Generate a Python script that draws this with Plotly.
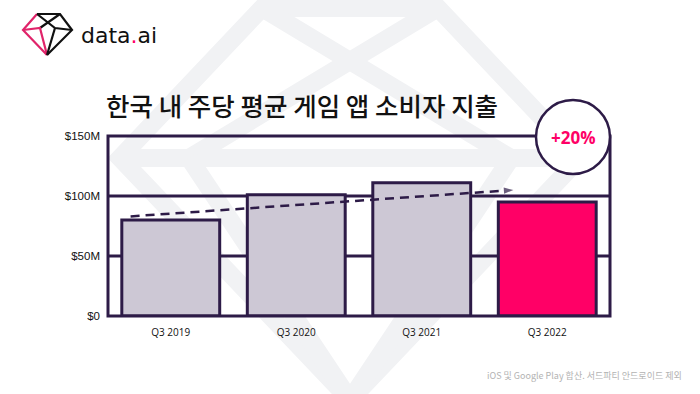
import plotly.graph_objects as go

# ---- data ----
categories = ["Q3 2019", "Q3 2020", "Q3 2021", "Q3 2022"]
spend_musd = [80, 101, 111, 95]
y_tick_vals = [0, 50, 100, 150]
y_tick_text = ["$0", "$50M", "$100M", "$150M"]
trend_x = [-0.32, 2.73]
trend_y = [83, 105]
growth_label = "+20%"
title_text = "한국 내 주당 평균 게임 앱 소비자 지출"
footnote_text = "iOS 및 Google Play 합산. 서드파티 안드로이드 제외"

DARK = "#2d1b47"
GREY_BAR = "#cdc8d5"
PINK = "#ff0066"
WM = "#f1f2f4"

W, H = 700, 394
L, R, T, B = 108, 90, 136, 78
PW, PH = W - L - R, H - T - B


def P(px, py):
    return ((px - L) / PW, (H - B - py) / PH)


def path(points, close=False):
    s = ""
    for i, (px, py) in enumerate(points):
        x, y = P(px, py)
        s += ("M" if i == 0 else "L") + f"{x:.4f},{y:.4f} "
    if close:
        s += "Z"
    return s


fig = go.Figure()

fig.add_trace(go.Bar(
    x=list(range(len(categories))), y=spend_musd, width=0.78,
    marker=dict(color=[GREY_BAR, GREY_BAR, GREY_BAR, PINK],
                line=dict(color=DARK, width=3)),
    hoverinfo="skip", showlegend=False,
))

fig.add_trace(go.Scatter(
    x=trend_x, y=trend_y, mode="lines+markers",
    line=dict(color=DARK, width=2.5, dash="9px,6px"),
    marker=dict(symbol=["circle", "arrow"], size=[0, 10], color=DARK,
                angleref="previous", line=dict(width=0)),
    showlegend=False, hoverinfo="skip", cliponaxis=False,
))

shapes = []
# watermark diamond
wm_lines = [
    ([(262, 8), (438, 8), (580, 158), (350, 400), (120, 158)], True),
    ([(262, 8), (511, 158)], False),
    ([(438, 8), (189, 158)], False),
    ([(120, 158), (580, 158)], False),
    ([(189, 158), (350, 400)], False),
    ([(511, 158), (350, 400)], False),
]
for pts, cl in wm_lines:
    shapes.append(dict(type="path", xref="paper", yref="paper", path=path(pts, cl),
                       line=dict(color=WM, width=18), layer="below"))
# gridlines
for v in [50, 100]:
    shapes.append(dict(type="line", xref="paper", yref="y", x0=0, x1=1, y0=v, y1=v,
                       line=dict(color=DARK, width=3), layer="below"))
# frame
shapes.append(dict(type="rect", xref="paper", yref="paper", x0=0, x1=1, y0=0, y1=1,
                   line=dict(color=DARK, width=3), layer="above"))
# circle
cx0, cy0 = P(573 - 37, 137 - 37)
cx1, cy1 = P(573 + 37, 137 + 37)
shapes.append(dict(type="circle", xref="paper", yref="paper", x0=cx0, x1=cx1, y0=cy1, y1=cy0,
                   line=dict(color=DARK, width=2.5), fillcolor="white", layer="above"))

# logo icon
logo_pink = "#e0246a"
logo_parts = [
    ([(37, 14), (60, 14), (72, 30), (47, 55)], "#111111"),
    ([(47, 55), (23, 30), (37, 14)], logo_pink),
    ([(37, 14), (55, 28), (72, 30)], "#111111"),
    ([(60, 14), (40, 28)], "#111111"),
    ([(23, 30), (40, 28), (47, 55)], logo_pink),
    ([(55, 28), (47, 55)], "#111111"),
]
for pts, col in logo_parts:
    shapes.append(dict(type="path", xref="paper", yref="paper", path=path(pts),
                       line=dict(color=col, width=2.2), layer="above"))

annotations = []
tx, ty = P(104, 104)
annotations.append(dict(xref="paper", yref="paper", x=tx, y=ty, xanchor="left", yanchor="middle",
                        text=title_text, showarrow=False,
                        font=dict(family="Noto Sans CJK KR", size=25.5, weight=500, color="#111111")))
gx, gy = P(573, 137)
annotations.append(dict(xref="paper", yref="paper", x=gx, y=gy, xanchor="center", yanchor="middle",
                        text=f"<b>{growth_label}</b>", showarrow=False,
                        font=dict(family="Open Sans", size=17, color=PINK)))
lx, ly = P(79, 35)
annotations.append(dict(xref="paper", yref="paper", x=lx, y=ly, xanchor="left", yanchor="middle",
                        text=f"data<span style='color:{PINK}'>.</span>ai", showarrow=False,
                        font=dict(family="DejaVu Sans", size=22, color="#111111")))
fx, fy = P(684, 375)
annotations.append(dict(xref="paper", yref="paper", x=fx, y=fy, xanchor="right", yanchor="middle",
                        text=footnote_text, showarrow=False,
                        font=dict(family="Noto Sans CJK KR", size=9, color="#b3b3b3")))

fig.update_layout(
    width=W, height=H, margin=dict(l=L, r=R, t=T, b=B),
    paper_bgcolor="white", plot_bgcolor="rgba(0,0,0,0)",
    shapes=shapes, annotations=annotations,
    xaxis=dict(range=[-0.5, 3.5], tickvals=list(range(len(categories))), ticktext=categories,
               showgrid=False, zeroline=False, showline=False, ticks="",
               tickfont=dict(family="Open Sans", size=10, color="#111111"), ticklabelstandoff=9),
    yaxis=dict(range=[0, 150], tickvals=y_tick_vals, ticktext=y_tick_text,
               showgrid=False, zeroline=False, showline=False, ticks="",
               tickfont=dict(family="Liberation Sans", size=11.5, color="#111111"), ticklabelstandoff=7),
)

fig.write_html("out.html", config={"displayModeBar": False},
               post_script="document.body.style.margin='0';document.body.style.overflow='hidden';")
